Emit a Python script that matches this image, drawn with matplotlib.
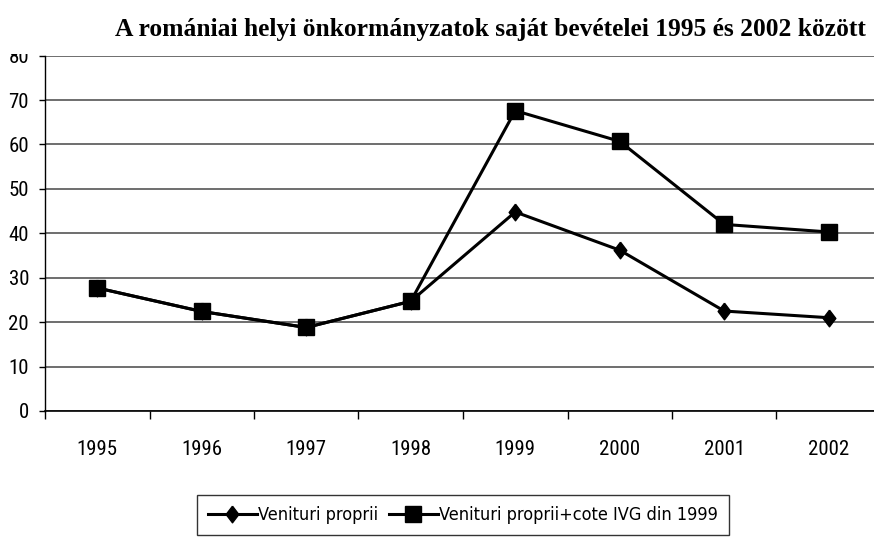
import matplotlib
matplotlib.use("Agg")
import matplotlib.pyplot as plt
from matplotlib.patches import Rectangle

years = ["1995", "1996", "1997", "1998", "1999", "2000", "2001", "2002"]
venituri = [27.7, 22.4, 18.8, 24.7, 44.8, 36.2, 22.5, 21.0]
venituri_ivg = [27.7, 22.4, 18.8, 24.7, 67.6, 60.7, 42.0, 40.3]

tick_font = dict(family=["Roboto Condensed", "DejaVu Sans"], size=15)
legend_font = dict(family=["DejaVu Sans", "Noto Sans"], stretch="condensed", size=13)

# slightly narrow diamond, like the Excel marker
diamond = [(0, 1), (0.76, 0), (0, -1), (-0.76, 0), (0, 1)]

W, H = 874, 538
fig = plt.figure(figsize=(W / 100, H / 100), dpi=100)
ax = fig.add_axes([45 / W, (H - 411) / H, (881 - 45) / W, (411 - 55.6) / H])

x = list(range(len(years)))
ax.plot(x, venituri, color="black", lw=2.2, marker=diamond, ms=12, label="Venituri proprii", zorder=3)
ax.plot(x, venituri_ivg, color="black", lw=2.2, marker="s", ms=12, label="Venituri proprii+cote IVG din 1999", zorder=3)

ax.set_xlim(-0.5, len(years) - 0.5)
ax.set_ylim(0, 80)
ax.set_yticks(range(0, 81, 10))
ax.set_xticks(x)
ax.set_xticklabels(years, fontdict=tick_font)
ax.set_yticklabels([str(v) for v in range(0, 81, 10)], fontdict=tick_font)
ax.set_xticks([i - 0.5 for i in range(len(years) + 1)], minor=True)
ax.tick_params(axis="x", which="major", length=0, pad=21)
ax.tick_params(axis="x", which="minor", length=6, width=1, direction="out")
ax.tick_params(axis="y", length=4.5, width=1, pad=7)

ax.grid(axis="y", color="#555555", lw=1.2)
ax.set_axisbelow(True)
for s in ["top", "right"]:
    ax.spines[s].set_visible(False)
ax.spines["left"].set_linewidth(1)
ax.spines["bottom"].set_linewidth(1.2)

# white band behind the title, it clips the top of the "80" label as in the original
fig.patches.append(Rectangle((0, (H - 54) / H), 1, 54 / H, transform=fig.transFigure,
                             facecolor="white", edgecolor="none", zorder=5))
fig.text(866 / W, (H - 36) / H, "A romániai helyi önkormányzatok saját bevételei 1995 és 2002 között",
         ha="right", va="baseline", fontsize=18.4, fontweight="bold",
         family="Liberation Serif", zorder=6)

leg = fig.legend(loc="upper left", bbox_to_anchor=(197 / W, (H - 495) / H), ncol=2,
                 frameon=True, fancybox=False, borderaxespad=0, handlelength=2.7,
                 columnspacing=0.6, handletextpad=0.08, borderpad=0.6, prop=legend_font)
leg.get_frame().set_edgecolor("black")
leg.get_frame().set_linewidth(1)

fig.savefig("out.png", dpi=100)
